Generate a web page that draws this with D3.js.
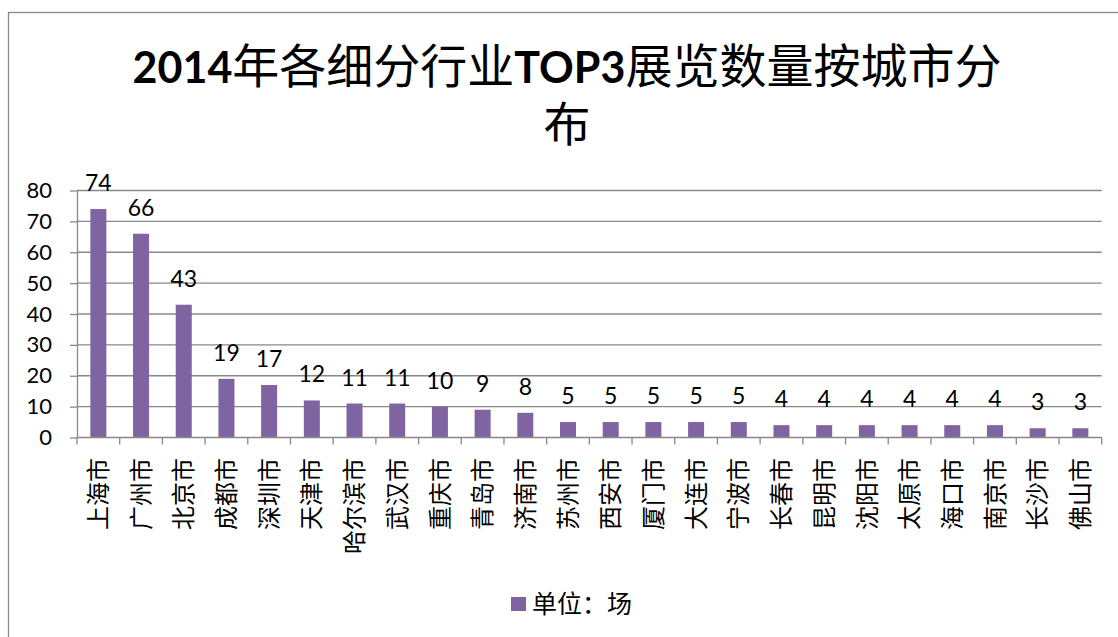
<!DOCTYPE html>
<html>
<head>
<meta charset="utf-8">
<script src="https://cdn.jsdelivr.net/npm/d3@7"></script>
<style>
  body { margin: 0; background: #fff; }
  svg { display: block; }
</style>
</head>
<body>
<svg id="chart"></svg>
<script>
// data
const cities = ['上海市', '广州市', '北京市', '成都市', '深圳市', '天津市', '哈尔滨市', '武汉市',
  '重庆市', '青岛市', '济南市', '苏州市', '西安市', '厦门市', '大连市', '宁波市',
  '长春市', '昆明市', '沈阳市', '太原市', '海口市', '南京市', '长沙市', '佛山市'];
const counts = [74, 66, 43, 19, 17, 12, 11, 11, 10, 9, 8, 5, 5, 5, 5, 5, 4, 4, 4, 4, 4, 4, 3, 3];
const yTicks = [0, 10, 20, 30, 40, 50, 60, 70, 80];
const titleLines = ['2014年各细分行业TOP3展览数量按城市分', '布'];
const seriesName = '单位：场';

const width = 1118, height = 637;
const margin = { top: 190.5, right: 16.3, bottom: 199.5, left: 77 };
const barColor = '#8064A2';
const gridColor = '#888888';
const latinFont = 'Lato, Carlito, Calibri, sans-serif';
const cjkFont = '"Noto Sans CJK SC", sans-serif';

const svg = d3.select('#chart')
  .attr('width', width)
  .attr('height', height);

// chart frame (runs off the right and bottom of the picture)
svg.append('rect')
  .attr('x', 8.5).attr('y', 12.5)
  .attr('width', 1140).attr('height', 700)
  .attr('fill', '#fff')
  .attr('stroke', '#888')
  .attr('stroke-width', 1.3);

const x = d3.scaleBand()
  .domain(cities)
  .range([margin.left, width - margin.right])
  .paddingInner(0.625)
  .paddingOuter(0.3125);

const y = d3.scaleLinear()
  .domain([0, 80])
  .range([height - margin.bottom, margin.top]);

// title: latin runs bold, CJK runs regular
const title = svg.append('text')
  .attr('text-anchor', 'middle')
  .attr('fill', '#000');
titleLines.forEach((line, i) => {
  const runs = line.match(/[A-Za-z0-9]+|[^A-Za-z0-9]+/g);
  runs.forEach((run, j) => {
    const isLatin = /^[A-Za-z0-9]+$/.test(run);
    const ts = title.append('tspan')
      .attr('font-family', isLatin ? latinFont : cjkFont)
      .attr('font-weight', isLatin ? 'bold' : 'normal')
      .attr('font-size', isLatin ? 43 : 47)
      .text(run);
    if (j === 0) ts.attr('x', 567).attr('y', i === 0 ? 83 : 141);
  });
});

// gridlines
svg.append('g')
  .selectAll('line')
  .data(yTicks.filter(d => d > 0))
  .join('line')
  .attr('x1', margin.left)
  .attr('x2', width - margin.right)
  .attr('y1', d => y(d))
  .attr('y2', d => y(d))
  .attr('stroke', gridColor)
  .attr('stroke-width', 1.3);

// y axis
const yAxis = svg.append('g')
  .attr('transform', `translate(${margin.left},0)`)
  .call(d3.axisLeft(y).tickValues(yTicks).tickSize(7).tickPadding(18).tickSizeOuter(0));
yAxis.select('.domain').attr('stroke', gridColor).attr('stroke-width', 1.3);
yAxis.selectAll('.tick line').attr('stroke', gridColor).attr('stroke-width', 1.3);
yAxis.selectAll('.tick text')
  .attr('font-family', latinFont)
  .attr('font-size', 22)
  .attr('fill', '#000');

// bars
svg.append('g')
  .selectAll('rect')
  .data(counts)
  .join('rect')
  .attr('x', (d, i) => x(cities[i]))
  .attr('y', d => y(d))
  .attr('width', x.bandwidth())
  .attr('height', d => y(0) - y(d))
  .attr('fill', barColor);

// value labels
svg.append('g')
  .selectAll('text')
  .data(counts)
  .join('text')
  .attr('x', (d, i) => x(cities[i]) + x.bandwidth() / 2)
  .attr('y', d => y(d) - 18)
  .attr('text-anchor', 'middle')
  .attr('font-family', latinFont)
  .attr('font-size', 23)
  .attr('fill', '#000')
  .text(d => d);

// x axis line + ticks at band boundaries
const x0 = x.range()[0];
const step = x.step();
const xAxis = svg.append('g');
xAxis.append('line')
  .attr('x1', x0).attr('x2', x.range()[1])
  .attr('y1', y(0)).attr('y2', y(0))
  .attr('stroke', gridColor).attr('stroke-width', 1.3);
xAxis.selectAll('.xtick')
  .data(d3.range(cities.length + 1))
  .join('line')
  .attr('class', 'xtick')
  .attr('x1', i => x0 + i * step)
  .attr('x2', i => x0 + i * step)
  .attr('y1', y(0))
  .attr('y2', y(0) + 7)
  .attr('stroke', gridColor)
  .attr('stroke-width', 1.3);

// category labels, rotated
svg.append('g')
  .selectAll('text')
  .data(cities)
  .join('text')
  .attr('transform', d => `translate(${x(d) + x.bandwidth() / 2},458) rotate(-90)`)
  .attr('dy', '0.36em')
  .attr('text-anchor', 'end')
  .attr('font-family', cjkFont)
  .attr('font-size', 24)
  .attr('fill', '#000')
  .text(d => d);

// legend
const legend = svg.append('g');
legend.append('rect')
  .attr('x', 511).attr('y', 597)
  .attr('width', 15).attr('height', 14)
  .attr('fill', barColor);
legend.append('text')
  .attr('x', 532).attr('y', 613)
  .attr('font-family', cjkFont)
  .attr('font-size', 25)
  .attr('fill', '#000')
  .text(seriesName);
</script>
</body>
</html>
